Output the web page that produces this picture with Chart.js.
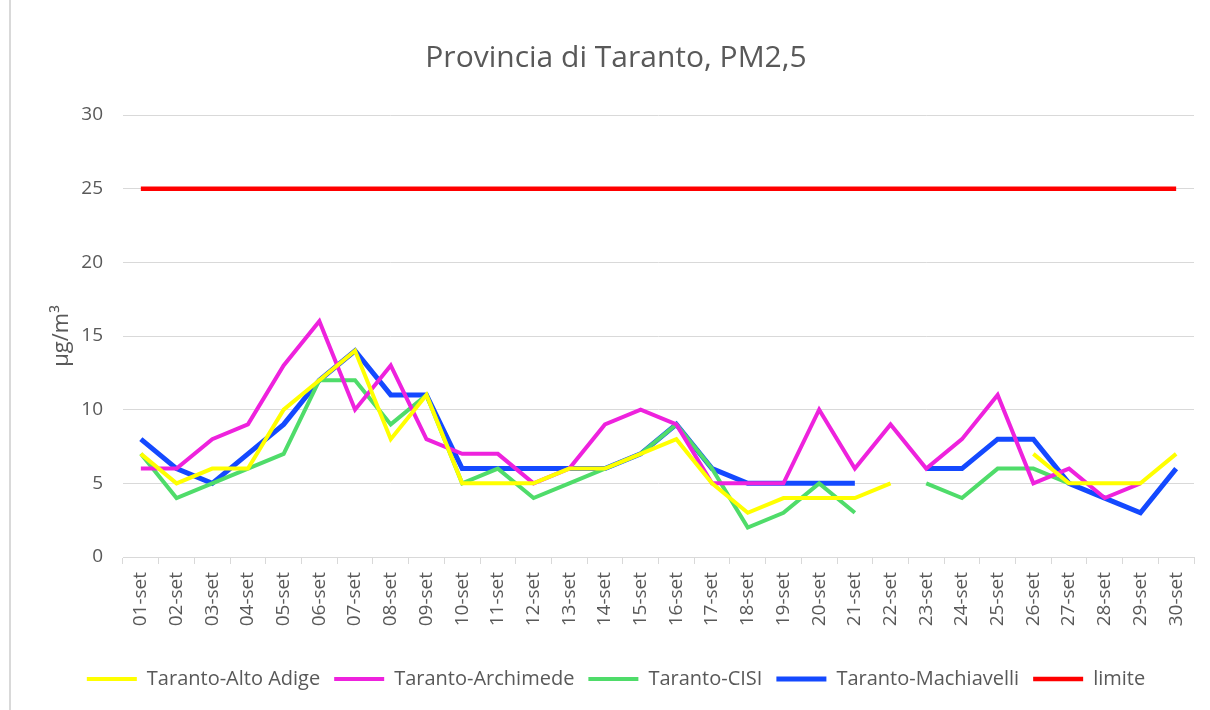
<!DOCTYPE html>
<html>
<head>
<meta charset="utf-8">
<script src="https://cdn.jsdelivr.net/npm/chart.js@4/dist/chart.umd.min.js"></script>
<style>
  html,body{margin:0;padding:0;background:#fff;}
  #wrap{width:1210px;height:710px;position:relative;}
</style>
</head>
<body>
<div id="wrap"><canvas id="chart" width="1210" height="710"></canvas></div>
<script>
// giorni di settembre
const days = ["01-set","02-set","03-set","04-set","05-set","06-set","07-set","08-set","09-set","10-set",
              "11-set","12-set","13-set","14-set","15-set","16-set","17-set","18-set","19-set","20-set",
              "21-set","22-set","23-set","24-set","25-set","26-set","27-set","28-set","29-set","30-set"]

const altoAdige   = [7,5,6,6,10,12,14,8,11,5, 5,5,6,6,7,8,5,3,4,4, 4,5,null,null,null,7,5,5,5,7]
const archimede   = [6,6,8,9,13,16,10,13,8,7, 7,5,6,9,10,9,5,5,5,10, 6,9,6,8,11,5,6,4,5,null]
const cisi        = [7,4,5,6,7,12,12,9,11,5, 6,4,5,6,7,9,6,2,3,5, 3,null,5,4,6,6,5,null,null,null]
const machiavelli = [8,6,5,7,9,12,14,11,11,6, 6,6,6,6,7,9,6,5,5,5, 5,null,6,6,8,8,5,4,3,6]
const limite      = days.map(()=>25)

const yTicks = [0,5,10,15,20,25,30]

function serie(label,data,color,w){
    return {
        label: label,
        data: data,
        borderColor: color,
        backgroundColor: color,
        borderWidth: w,
        pointRadius: 0,
        pointHoverRadius: 0,
        tension: 0,
        spanGaps: false
    }
}

// linea grigia a sinistra (bordo del grafico)
const bordo = {
    id: 'bordo',
    beforeDraw(chart){
        const c = chart.ctx
        c.save()
        c.strokeStyle = '#d9d9d9'
        c.lineWidth = 2
        c.beginPath()
        c.moveTo(10,0)
        c.lineTo(10,710)
        c.stroke()
        c.restore()
    }
}

const grey = '#595959'
const font = "'Open Sans', 'Noto Sans', sans-serif"

new Chart(document.getElementById('chart').getContext('2d'), {
    type: 'line',
    data: {
        labels: days,
        datasets: [
            serie("Taranto-Alto Adige", altoAdige, '#ffff00', 4),
            serie("Taranto-Archimede", archimede, '#ee22dd', 4),
            serie("Taranto-CISI", cisi, '#4fdc6a', 4),
            serie("Taranto-Machiavelli", machiavelli, '#1449ff', 5),
            serie("limite", limite, '#ff0000', 4.5)
        ]
    },
    plugins: [bordo],
    options: {
        responsive: false,
        animation: false,
        layout: { padding: { left: 38, right: 16, top: 0, bottom: 11 } },
        plugins: {
            title: {
                display: true,
                text: "Provincia di Taranto, PM2,5",
                color: grey,
                font: { family: font, size: 30, weight: 'normal' },
                padding: { top: 40, bottom: 39 }
            },
            legend: {
                position: 'bottom',
                labels: {
                    color: grey,
                    font: { family: font, size: 20 },
                    usePointStyle: true,
                    pointStyle: 'line',
                    pointStyleWidth: 50,
                    boxHeight: 4,
                    padding: 14
                }
            },
            tooltip: { enabled: false }
        },
        scales: {
            x: {
                offset: true,
                grid: {
                    offset: true,
                    drawOnChartArea: false,
                    drawTicks: true,
                    tickLength: 7,
                    color: '#d9d9d9'
                },
                border: { color: '#d9d9d9', width: 1 },
                ticks: {
                    color: grey,
                    font: { family: font, size: 19 },
                    minRotation: 90,
                    maxRotation: 90,
                    autoSkip: false,
                    padding: 8
                },
                afterFit(s){ s.height = 98 }
            },
            y: {
                min: 0,
                max: 30,
                afterBuildTicks(s){ s.ticks = yTicks.map(v=>({value:v})) },
                grid: { color: '#d9d9d9', drawTicks: false },
                border: { display: false },
                ticks: {
                    color: grey,
                    font: { family: font, size: 19 },
                    padding: 20
                },
                title: {
                    display: true,
                    text: "µg/m³",
                    color: grey,
                    font: { family: font, size: 22 },
                    padding: { top: 11, bottom: 0 }
                },
                afterFit(s){ s.width = 85 }
            }
        }
    }
});
</script>
</body>
</html>
